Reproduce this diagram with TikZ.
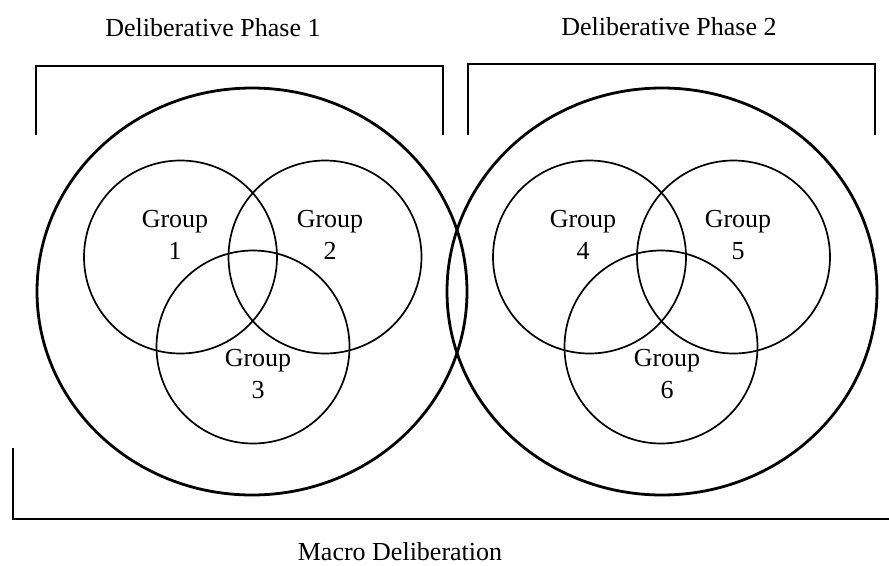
\documentclass[tikz,border=0pt]{standalone}
\usepackage{fontspec}
\setmainfont{Liberation Serif}
\usetikzlibrary{shapes.geometric}
\begin{document}
\begin{tikzpicture}[x=1pt,y=-1pt,
  outer/.style={draw, ellipse, line width=2.8pt, minimum width=430pt, minimum height=407pt, inner sep=0pt},
  grp/.style={draw, circle, line width=1.7pt, minimum size=193pt, inner sep=0pt},
  bracket/.style={draw, line width=1.7pt},
  lbl/.style={anchor=base, inner sep=0pt, font=\fontsize{26}{32}\selectfont},
]
\useasboundingbox (0,0) rectangle (889,565);

% phase brackets and macro bracket
\draw[bracket] (36,135) -- (36,66) -- (443,66) -- (443,135);
\draw[bracket] (468,135) -- (468,64) -- (875,64) -- (875,135);
\draw[bracket] (13,448) -- (13,519) -- (889,519);

% captions
\node[lbl] (p1) at (213,36) {Deliberative Phase 1};
\node[lbl] (p2) at (669,35) {Deliberative Phase 2};
\node[lbl] (macro) at (400,560) {Macro Deliberation};

% outer rings of the two phases
\node[outer] (ph1) at (252,291.5) {};
\node[outer] (ph2) at (662,291.5) {};

% groups of phase 1
\node[grp] (g1) at (180.5,257) {};
\node[grp] (g2) at (325,257) {};
\node[grp] (g3) at (253,347) {};
% groups of phase 2
\node[grp] (g4) at (589.5,257) {};
\node[grp] (g5) at (733.5,257) {};
\node[grp] (g6) at (661,347) {};

% group labels
\node[lbl] (t1a) at (175,227) {Group};
\node[lbl] (t1b) at (175,259) {1};
\node[lbl] (t2a) at (330,227) {Group};
\node[lbl] (t2b) at (330,259) {2};
\node[lbl] (t3a) at (258,366) {Group};
\node[lbl] (t3b) at (258,398) {3};
\node[lbl] (t4a) at (583,227) {Group};
\node[lbl] (t4b) at (583,259) {4};
\node[lbl] (t5a) at (738,227) {Group};
\node[lbl] (t5b) at (738,259) {5};
\node[lbl] (t6a) at (667,366) {Group};
\node[lbl] (t6b) at (667,398) {6};
\end{tikzpicture}
\end{document}
